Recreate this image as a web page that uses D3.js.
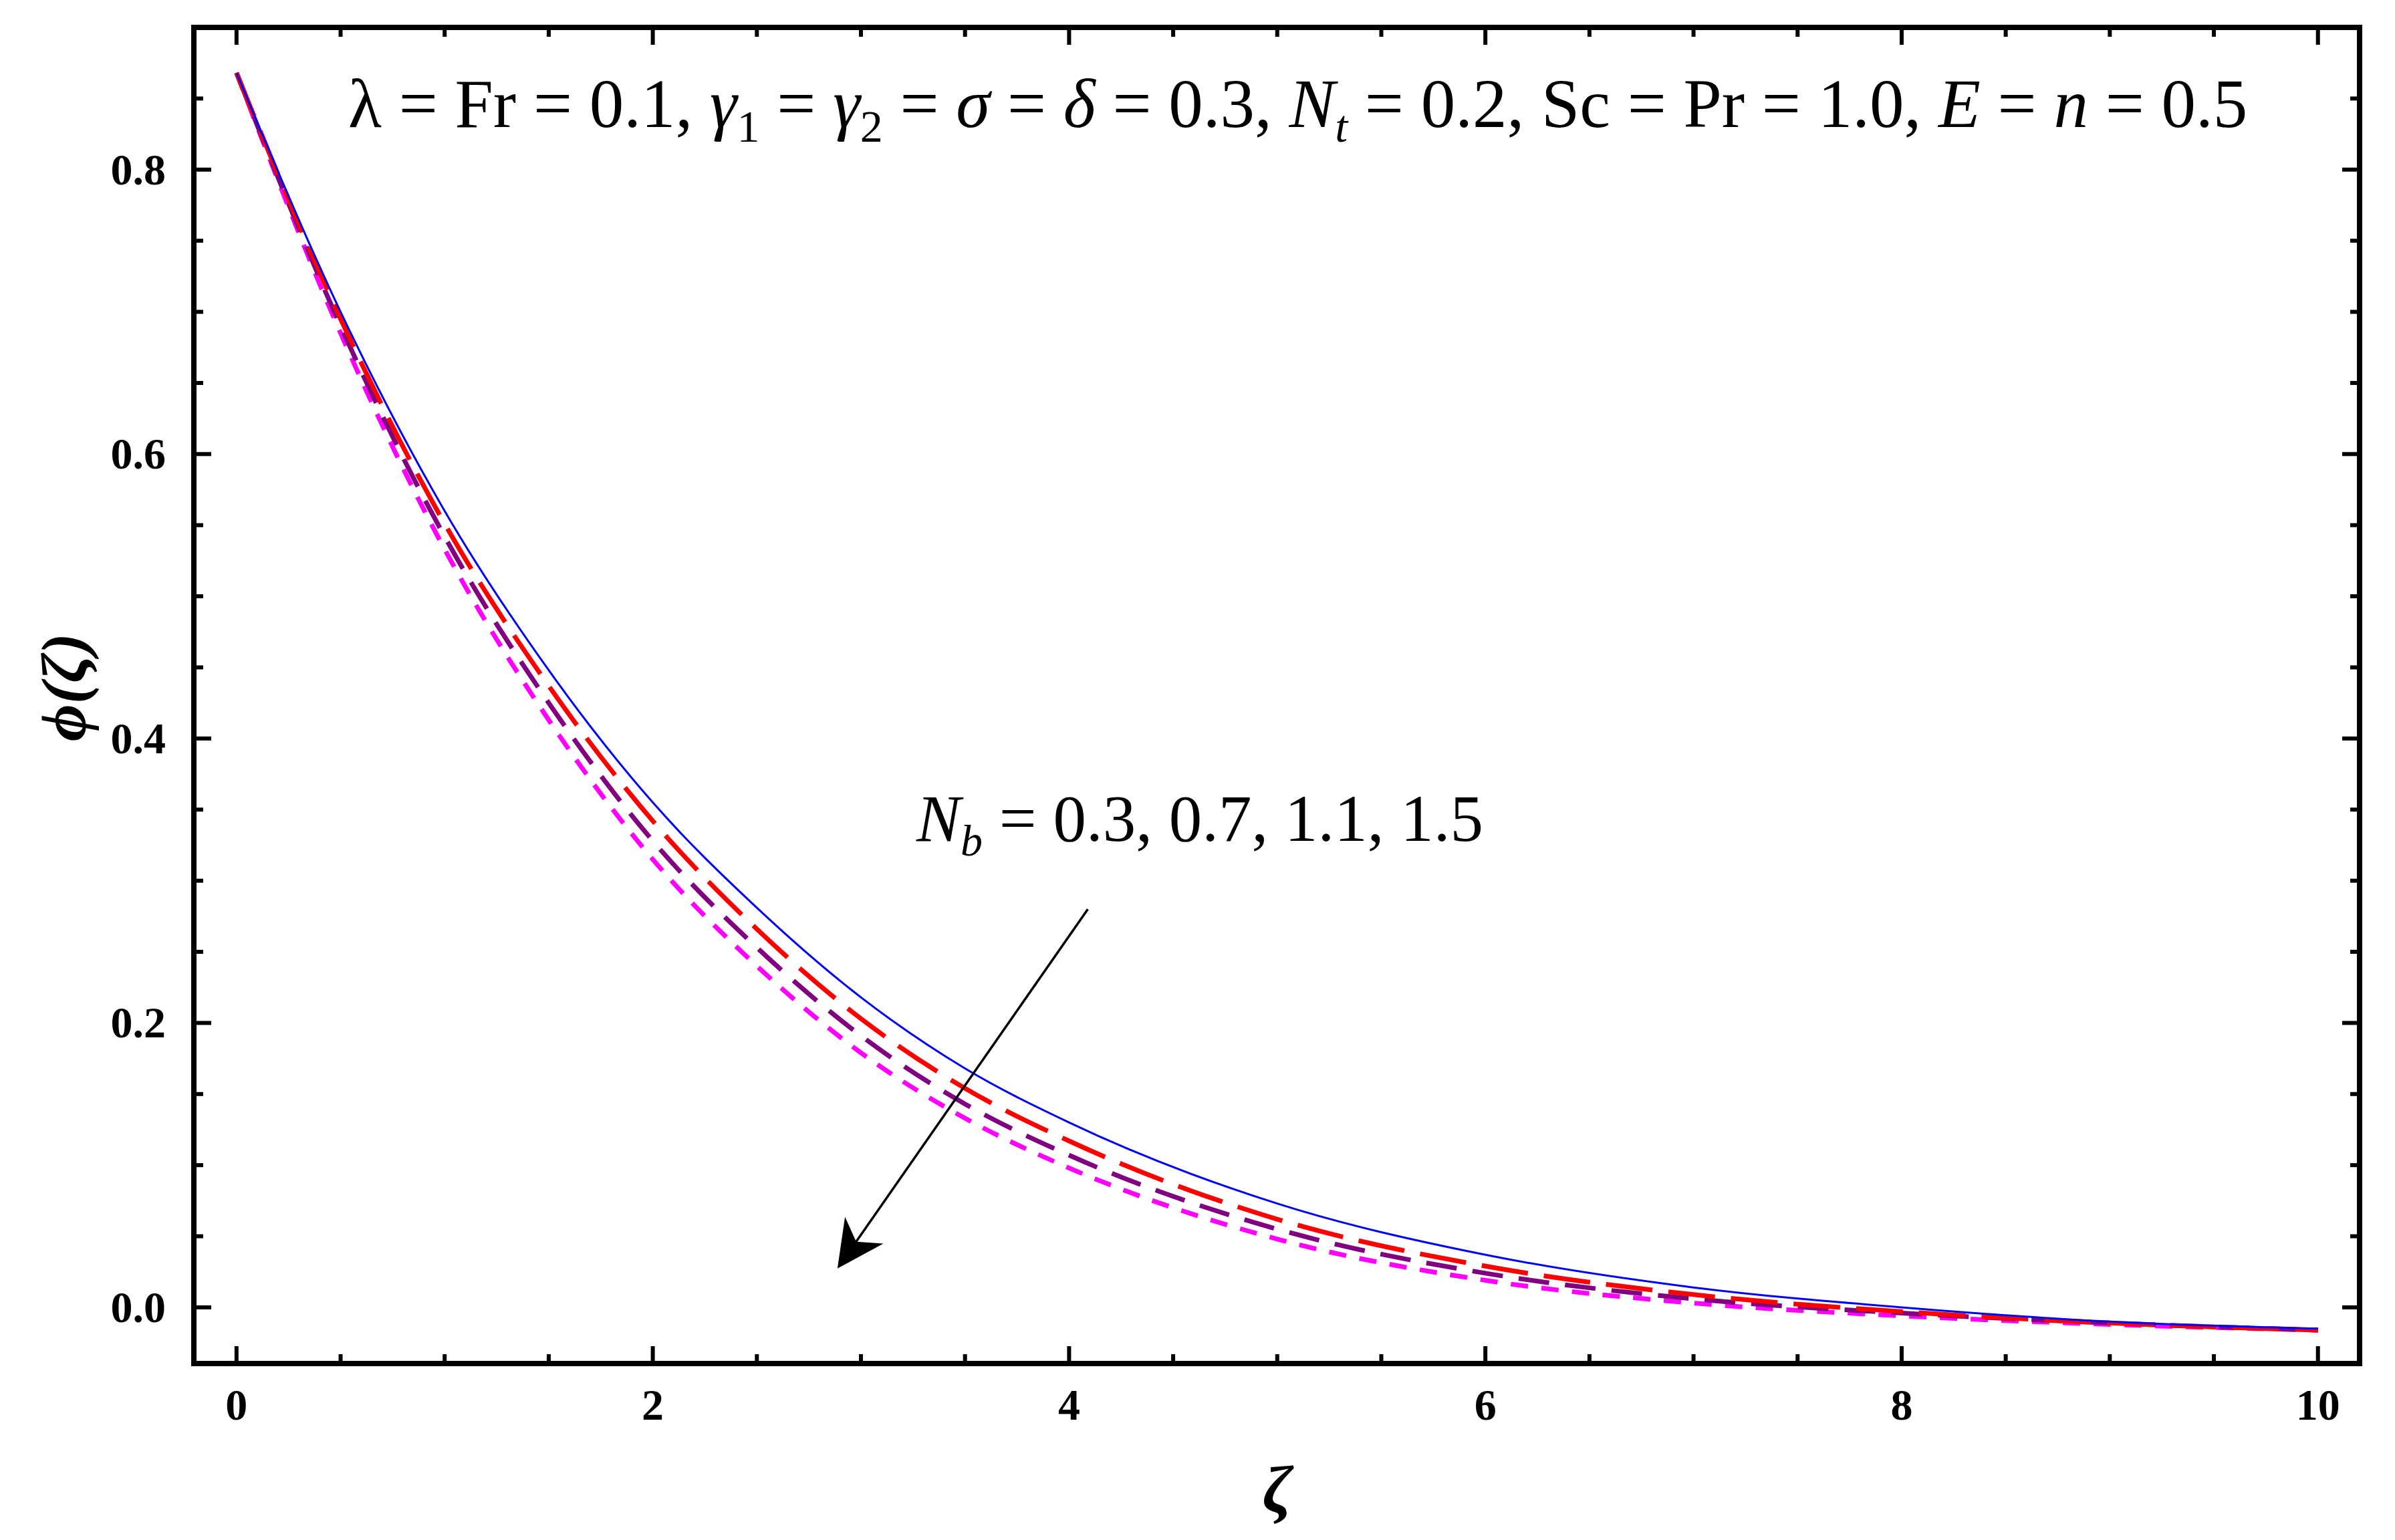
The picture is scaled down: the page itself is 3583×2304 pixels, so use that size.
<!DOCTYPE html>
<html><head><meta charset="utf-8">
<script src="https://cdn.jsdelivr.net/npm/d3@7"></script>
<style>body{margin:0;background:#fff}svg{display:block}</style>
</head><body>
<script>
const zeta = [0,0.5,1,1.5,2,2.5,3,3.5,4,5,6,7,8,9,10];
const phiNb03 = [0.868,0.700,0.560,0.448,0.355,0.281,0.218,0.168,0.130,0.073,0.037,0.014,0.000,-0.010,-0.015];
const phiNb07 = [0.868,0.695,0.551,0.437,0.342,0.266,0.203,0.154,0.117,0.062,0.029,0.009,-0.003,-0.011,-0.016];
const phiNb11 = [0.868,0.690,0.542,0.425,0.328,0.253,0.191,0.143,0.107,0.055,0.024,0.006,-0.004,-0.011,-0.016];
const phiNb15 = [0.868,0.685,0.533,0.413,0.315,0.240,0.179,0.133,0.098,0.048,0.019,0.003,-0.006,-0.012,-0.016];
const xTicks = [0,2,4,6,8,10];
const yTicks = [0.0,0.2,0.4,0.6,0.8];
const seriesNames = ["Nb=0.3","Nb=0.7","Nb=1.1","Nb=1.5"];
const seriesColors = ["#0000ff","#ff0000","#800080","#ff00ff"];

const W=3583,H=2304;
const L=290,R=3530,T=41,B=2040;
const svg=d3.select("body").append("svg").attr("width",W).attr("height",H);
const x=d3.scaleLinear().domain([-0.205,10.2]).range([L,R]);
const y=d3.scaleLinear().domain([-0.0395,0.9]).range([B,T]);

const series=[phiNb03,phiNb07,phiNb11,phiNb15];
const dashes=[null,"70,24","46,24","26,20"];
const widths=[3,7,7,7];
const line=d3.line().x((d,i)=>x(zeta[i])).y(d=>y(d)).curve(d3.curveMonotoneX);
const plot=svg.append("g");
[3,2,1,0].forEach(k=>{
  plot.append("path").datum(series[k]).attr("d",line).attr("fill","none")
   .attr("stroke",seriesColors[k]).attr("stroke-width",widths[k])
   .attr("stroke-dasharray",dashes[k]);
});

const tk=svg.append("g").attr("stroke","#000").attr("stroke-width",6);
const xMinor=d3.range(0,10.01,0.5), yMinor=d3.range(0,0.9,0.05);
xMinor.forEach(v=>{const len=Math.abs(v%2)<1e-6?26:14;
  tk.append("line").attr("x1",x(v)).attr("x2",x(v)).attr("y1",B).attr("y2",B-len);
  tk.append("line").attr("x1",x(v)).attr("x2",x(v)).attr("y1",T).attr("y2",T+len);});
yMinor.forEach(v=>{const major=Math.abs(Math.round(v*10)-v*10)<1e-6&&Math.round(v*10)%2===0;const len=major?26:14;
  tk.append("line").attr("y1",y(v)).attr("y2",y(v)).attr("x1",L).attr("x2",L+len);
  tk.append("line").attr("y1",y(v)).attr("y2",y(v)).attr("x1",R).attr("x2",R-len);});
svg.append("rect").attr("x",L).attr("y",T).attr("width",R-L).attr("height",B-T)
  .attr("fill","none").attr("stroke","#000").attr("stroke-width",8);

const ff="'Liberation Serif','Times New Roman',serif";
svg.append("g").selectAll("text").data(xTicks).join("text")
  .attr("x",d=>x(d)).attr("y",B+84).attr("text-anchor","middle")
  .attr("font-family",ff).attr("font-weight","bold").attr("font-size",66).text(d=>d);
svg.append("g").selectAll("text").data(yTicks).join("text")
  .attr("x",L-42).attr("y",d=>y(d)+22).attr("text-anchor","end")
  .attr("font-family",ff).attr("font-weight","bold").attr("font-size",66).text(d=>d.toFixed(1));

svg.append("text").attr("x",(x(0)+x(10))/2).attr("y",2262).attr("text-anchor","middle")
  .attr("font-family",ff).attr("font-style","italic").attr("font-weight","bold").attr("font-size",100).text("ζ");
svg.append("text").attr("transform","translate(128,1028) rotate(-90)").attr("text-anchor","middle")
  .attr("font-family",ff).attr("font-style","italic").attr("font-weight","bold").attr("font-size",96).text("ϕ(ζ)");

const ann=svg.append("text").attr("x",521).attr("y",190).attr("font-family",ff).attr("font-size",103);
const parts=[["λ",0],[" = Fr = 0.1, ",0],["γ",1],["1",2],[" = ",0],["γ",1],["2",2],[" = ",0],["σ",1],[" = ",0],["δ",1],[" = 0.3, ",0],["N",1],["t",3],[" = 0.2, Sc = Pr = 1.0, ",0],["E",1],[" = ",0],["n",1],[" = 0.5",0]];
parts.forEach(([t,s],i)=>{const ts=ann.append("tspan").text(t);
  if(s===1||s===3)ts.attr("font-style","italic");
  if(s>=2)ts.attr("font-size",68).attr("dy",22);
  else if(i>0&&parts[i-1][1]>=2)ts.attr("dy",-22);
});

const lab=svg.append("text").attr("x",1371).attr("y",1258).attr("font-family",ff).attr("font-size",99);
lab.append("tspan").attr("font-style","italic").text("N");
lab.append("tspan").attr("font-style","italic").attr("font-size",66).attr("dy",22).text("b");
lab.append("tspan").attr("dy",-22).text(" = 0.3, 0.7, 1.1, 1.5");

const arrowStart=[4.09,0.280], arrowEnd=[2.9,0.030];
const defs=svg.append("defs");
defs.append("marker").attr("id","ah").attr("viewBox","0 0 10 10").attr("refX",9).attr("refY",5)
  .attr("markerWidth",120).attr("markerHeight",70).attr("markerUnits","userSpaceOnUse").attr("orient","auto")
  .append("path").attr("d","M0,0 L10,5 L0,10 L3,5 Z").attr("fill","#000");
svg.append("line").attr("x1",x(arrowStart[0])).attr("y1",y(arrowStart[1])).attr("x2",x(arrowEnd[0])).attr("y2",y(arrowEnd[1]))
  .attr("stroke","#000").attr("stroke-width",3.5).attr("marker-end","url(#ah)");
</script>
</body></html>
